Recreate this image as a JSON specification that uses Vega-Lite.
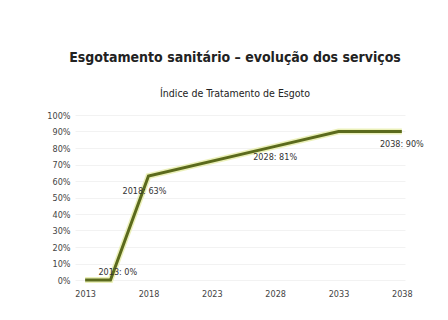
{
  "$schema": "https://vega.github.io/schema/vega-lite/v6.json",
  "width": 330,
  "height": 165,
  "autosize": {"type": "none"},
  "padding": {"left": 75, "top": 115, "right": 43, "bottom": 40},
  "background": "white",
  "title": {
    "text": "Esgotamento sanitário – evolução dos serviços",
    "subtitle": "Índice de Tratamento de Esgoto",
    "anchor": "middle",
    "dx": -5,
    "offset": 12,
    "font": "DejaVu Sans Condensed",
    "fontSize": 14,
    "fontWeight": "bold",
    "color": "#222222",
    "subtitleFont": "DejaVu Sans Condensed",
    "subtitleFontSize": 10.5,
    "subtitleColor": "#222222",
    "subtitlePadding": 24
  },
  "config": {
    "view": {"stroke": null},
    "axis": {
      "labelFont": "DejaVu Sans Condensed",
      "labelFontSize": 9,
      "labelColor": "#444444",
      "ticks": false,
      "domain": false,
      "title": null
    }
  },
  "data": {
    "values": [
      {"year": 2013, "value": 0, "label": ""},
      {"year": 2015, "value": 0, "label": "2013: 0%"},
      {"year": 2018, "value": 0.63, "label": "2018: 63%"},
      {"year": 2028, "value": 0.81, "label": "2028: 81%"},
      {"year": 2033, "value": 0.9, "label": ""},
      {"year": 2038, "value": 0.9, "label": "2038: 90%"}
    ]
  },
  "encoding": {
    "x": {
      "field": "year",
      "type": "quantitative",
      "scale": {"domain": [2012.2, 2038.25], "nice": false, "zero": false},
      "axis": {"values": [2013, 2018, 2023, 2028, 2033, 2038], "format": "d", "grid": false, "labelPadding": 9}
    },
    "y": {
      "field": "value",
      "type": "quantitative",
      "scale": {"domain": [0, 1], "nice": false},
      "axis": {"values": [0, 0.1, 0.2, 0.3, 0.4, 0.5, 0.6, 0.7, 0.8, 0.9, 1], "format": ".0%", "grid": true, "gridColor": "#f2f2f2", "labelPadding": 5}
    }
  },
  "layer": [
    {"mark": {"type": "line", "color": "#e6eca8", "strokeWidth": 6, "opacity": 0.8}},
    {"mark": {"type": "line", "color": "#5b6a1c", "strokeWidth": 3}},
    {
      "transform": [{"filter": "datum.label == '2013: 0%'"}],
      "mark": {"type": "text", "align": "left", "baseline": "middle", "dx": -12, "dy": -8, "font": "DejaVu Sans Condensed", "fontSize": 9, "color": "#333333"},
      "encoding": {"text": {"field": "label"}}
    },
    {
      "transform": [{"filter": "datum.label == '2018: 63%'"}],
      "mark": {"type": "text", "align": "center", "baseline": "middle", "dx": -4, "dy": 15, "font": "DejaVu Sans Condensed", "fontSize": 9, "color": "#333333"},
      "encoding": {"text": {"field": "label"}}
    },
    {
      "transform": [{"filter": "datum.label == '2028: 81%'"}],
      "mark": {"type": "text", "align": "center", "baseline": "middle", "dx": 0, "dy": 11, "font": "DejaVu Sans Condensed", "fontSize": 9, "color": "#333333"},
      "encoding": {"text": {"field": "label"}}
    },
    {
      "transform": [{"filter": "datum.label == '2038: 90%'"}],
      "mark": {"type": "text", "align": "center", "baseline": "middle", "dx": 0, "dy": 12, "font": "DejaVu Sans Condensed", "fontSize": 9, "color": "#333333"},
      "encoding": {"text": {"field": "label"}}
    }
  ]
}
